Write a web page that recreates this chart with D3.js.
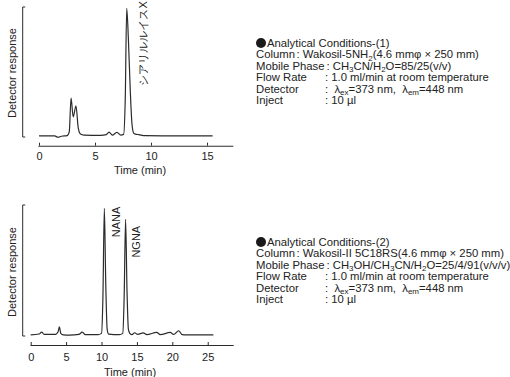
<!DOCTYPE html>
<html><head><meta charset="utf-8">
<script src="https://cdn.jsdelivr.net/npm/d3@7"></script>
<style>
body{margin:0;background:#fff;}
svg text{font-family:"Liberation Sans",Arial,Helvetica,sans-serif;fill:#222;}
</style></head>
<body>
<svg id="c" width="510" height="377"></svg>
<script>
// ---- Data ----
const xTicks1 = [0, 5, 10, 15];
const xTicks2 = [0, 5, 10, 15, 20, 25];
// Chromatogram 1: retention time (min) and detector response (arbitrary, 0-100)
const time1 = [0, 1.4, 1.7, 2.0, 2.5, 2.7, 2.86, 3.05, 3.3, 3.5, 3.7, 4.0, 5.5, 6.0, 6.25, 6.55, 6.95, 7.3, 7.55, 7.7, 7.83, 7.98, 8.15, 8.3, 8.45, 8.6, 8.9, 9.5, 15.5];
const resp1 = [0.8, 0.8, -0.2, 0.6, 1.0, 4, 30, 15.5, 24, 7, 2.3, 1.5, 1.2, 1.8, 3.8, 1.5, 3.6, 1.5, 2, 30, 99, 75, 35, 10, 3, 2.2, 1.8, 1.0, 0.8];
// Chromatogram 2
const time2 = [0, 1.2, 1.55, 1.9, 3.5, 3.85, 4.05, 4.25, 4.6, 5.5, 6.8, 7.3, 7.7, 9.5, 10.0, 10.2, 10.4, 10.6, 10.8, 11.0, 12.5, 13.0, 13.2, 13.4, 13.6, 13.8, 14.0, 14.3, 14.7, 15.1, 15.9, 16.4, 17.8, 18.3, 19.7, 20.2, 20.9, 21.4, 22, 25.8];
const resp2 = [0.8, 1.5, 3, 1.2, 1.3, 3, 7, 2, 0.9, 0.7, 1.2, 3, 1, 1, 2, 30, 97.5, 40, 5, 1.5, 1, 2, 30, 89, 35, 5, 2, 1, 2.5, 1.2, 2.4, 1, 2.8, 1, 2.7, 1.2, 4, 1, 0.8, 0.8];
const peakLabels1 = [{name: "シアリルルイスX", t: 9.3, v: 72}];
const peakLabels2 = [{name: "NANA", t: 12.0, v: 87}, {name: "NGNA", t: 14.9, v: 72}];
const cond1 = [
  ["Analytical Conditions-(1)", null],
  ["Column", ": Wakosil-5NH<sub>2</sub>(4.6 mmφ × 250 mm)"],
  ["Mobile Phase", ": CH<sub>3</sub>CN/H<sub>2</sub>O=85/25(v/v)"],
  ["Flow Rate", ": 1.0 ml/min at room temperature"],
  ["Detector", ":  λ<sub>ex</sub>=373 nm,  λ<sub>em</sub>=448 nm"],
  ["Inject", ": 10 µl"]
];
const cond2 = [
  ["Analytical Conditions-(2)", null],
  ["Column", ": Wakosil-II 5C18RS(4.6 mmφ × 250 mm)"],
  ["Mobile Phase", ": CH<sub>3</sub>OH/CH<sub>3</sub>CN/H<sub>2</sub>O=25/4/91(v/v/v)"],
  ["Flow Rate", ": 1.0 ml/min at room temperature"],
  ["Detector", ":  λ<sub>ex</sub>=373 nm,  λ<sub>em</sub>=448 nm"],
  ["Inject", ": 10 µl"]
];

const svg = d3.select("#c");
const ink = "#2b2b2b";

function chart(cfg) {
  const g = svg.append("g");
  const x = d3.scaleLinear().domain(cfg.xDomain).range(cfg.xRange);
  const y = d3.scaleLinear().domain([0, 100]).range(cfg.yRange);
  const bx = 22.7;
  g.append("path")
    .attr("d", `M${bx+2.5},${y(100)}H${bx}V${y(0)}H${bx+2.5}`)
    .attr("fill", "none").attr("stroke", ink).attr("stroke-width", 1);
  const ax = g.append("g").attr("transform", `translate(0,${cfg.axisY})`)
    .call(d3.axisBottom(x).tickValues(cfg.ticks).tickSizeInner(-3).tickSizeOuter(0).tickPadding(cfg.pad).tickFormat(d3.format("d")));
  ax.select(".domain").attr("stroke", ink).attr("stroke-width", 1.1);
  ax.selectAll(".tick line").attr("stroke", ink).attr("stroke-width", 1);
  ax.selectAll(".tick text").attr("font-size", 11).attr("fill", "#222")
    .attr("font-family", '"Liberation Sans",Arial,sans-serif');
  g.append("text").attr("x", cfg.titleX).attr("y", cfg.titleY)
    .attr("text-anchor", "middle").attr("font-size", 11).text("Time (min)");
  g.append("text").attr("transform", `translate(12,${cfg.ylabY}) rotate(-90)`)
    .attr("text-anchor", "middle").attr("dominant-baseline", "central").attr("font-size", 11)
    .text("Detector response");
  const pts = cfg.t.map((t, i) => [t, cfg.v[i]]);
  g.append("path").datum(pts)
    .attr("d", d3.line().x(d => x(d[0])).y(d => y(d[1])).curve(d3.curveMonotoneX))
    .attr("fill", "none").attr("stroke", ink).attr("stroke-width", 1.2).attr("stroke-linejoin", "round");
  cfg.labels.forEach(l => {
    g.append("text").attr("transform", `translate(${x(l.t)},${y(l.v)}) rotate(-90)`)
      .attr("text-anchor", "middle").attr("dominant-baseline", "central")
      .attr("font-size", 11)
      .attr("font-family", /[^\x00-\x7F]/.test(l.name) ? '"Noto Sans CJK JP",sans-serif' : '"Liberation Sans",Arial,sans-serif')
      .text(l.name);
  });
}

chart({xDomain: [-0.1, 17.3], xRange: [37.9, 232.8], yRange: [137, 7], axisY: 145.7, pad: 7,
  ticks: xTicks1, t: time1, v: resp1, labels: peakLabels1, titleY: 174, titleX: 140, ylabY: 73});
chart({xDomain: [-0.1, 28.6], xRange: [30.0, 233.2], yRange: [336, 205], axisY: 345, pad: 8,
  ticks: xTicks2, t: time2, v: resp2, labels: peakLabels2, titleY: 376, titleX: 130, ylabY: 272});

function block(rows, y0) {
  const dy = 11.4, fs = 11.3;
  rows.forEach((r, i) => {
    const yy = y0 + i * dy;
    if (r[1] === null) {
      svg.append("circle").attr("cx", 261).attr("cy", yy - 4).attr("r", 5).attr("fill", "#1a1a1a");
      svg.append("text").attr("x", 267).attr("y", yy).attr("font-size", fs).text(r[0]);
      return;
    }
    const lab = svg.append("text").attr("x", 256).attr("y", yy).attr("font-size", fs).text(r[0]);
    const w = lab.node().getComputedTextLength();
    const vx = r[0] === "Column" ? 256 + w + 1.5 : (r[0] === "Mobile Phase" ? 256 + w + 2 : 325);
    const v = svg.append("text").attr("x", vx).attr("y", yy).attr("font-size", fs).attr("xml:space", "preserve");
    const segs = r[1].split(/(<sub>.*?<\/sub>)/).filter(s => s);
    let shift = 0;
    segs.forEach(s => {
      const m = s.match(/<sub>(.*?)<\/sub>/);
      if (m) {
        v.append("tspan").attr("font-size", 8).attr("dy", 2.5 - shift).text(m[1]);
        shift = 2.5;
      } else {
        v.append("tspan").attr("font-size", fs).attr("dy", -shift).text(s);
        shift = 0;
      }
    });
  });
}
block(cond1, 47);
block(cond2, 246);
</script>
</body></html>
